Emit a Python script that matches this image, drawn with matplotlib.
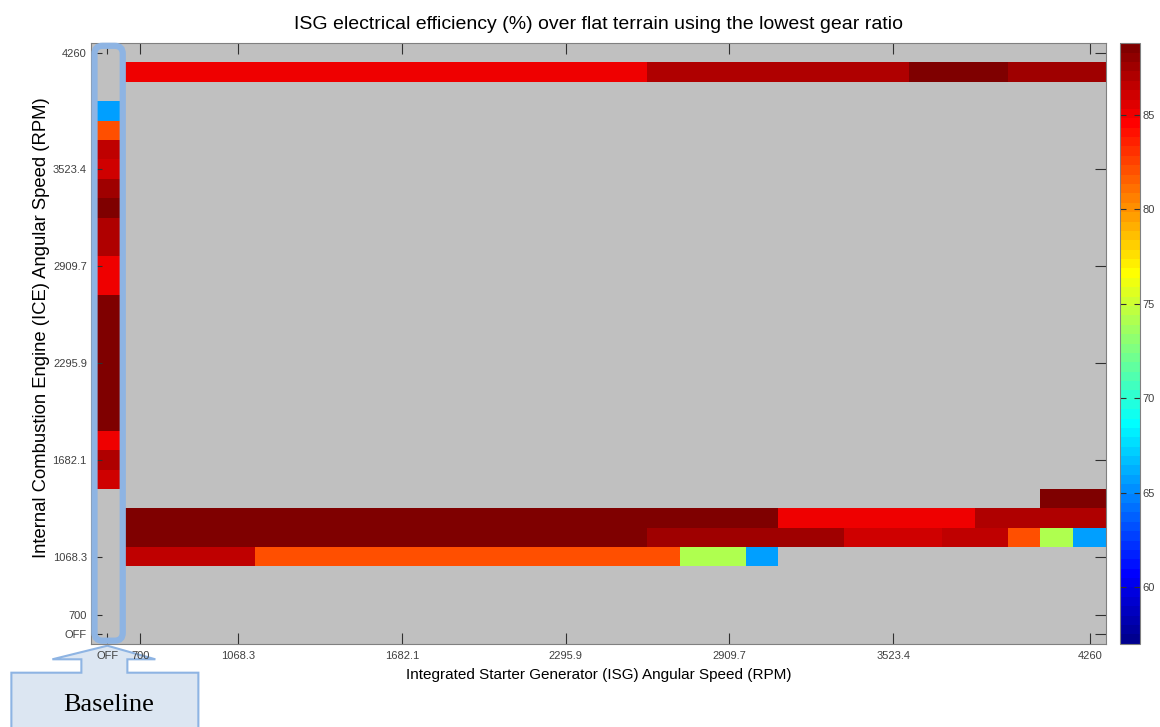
import numpy as np
import matplotlib.pyplot as plt
from matplotlib.colors import ListedColormap, Normalize
from matplotlib.patches import FancyBboxPatch, Polygon
from matplotlib.transforms import IdentityTransform

plt.rcParams['font.family'] = ['Liberation Sans', 'DejaVu Sans']

nan = np.nan

# speed grid: OFF + 30 speeds from 700 to 4260 rpm (same for ISG and ICE)
rpm_min, rpm_max, n_speeds = 700, 4260, 30
tick_labels = ["OFF", "700", "1068.3", "1682.1", "2295.9", "2909.7", "3523.4", "4260"]

# ISG efficiency (%) with the ISG switched off, ICE from OFF up to 4260 rpm
baseline_eff = [nan, nan, nan, nan, nan, nan, nan, nan,
                86.1, 87.1, 85.1, 88.5, 88.5, 88.5, 88.5, 88.5, 88.5, 88.5,
                85.1, 85.1, 87.1, 87.1, 88.5, 87.6, 86.1, 86.6, 82.1, 65.7,
                nan, nan, nan]

# ISG efficiency (%) along ISG speed 700..4260 rpm, one list per ICE speed
eff_ice_1068 = [86.6, 86.6, 86.6, 86.6, 82.1, 82.1, 82.1, 82.1, 82.1, 82.1,
                82.1, 82.1, 82.1, 82.1, 82.1, 82.1, 82.1, 74.1, 74.1, 65.7,
                nan, nan, nan, nan, nan, nan, nan, nan, nan, nan]
eff_ice_1191 = [88.5, 88.5, 88.5, 88.5, 88.5, 88.5, 88.5, 88.5, 88.5, 88.5,
                88.5, 88.5, 88.5, 88.5, 88.5, 88.5, 87.6, 87.6, 87.6, 87.6,
                87.6, 87.6, 86.1, 86.1, 86.1, 86.6, 86.6, 82.1, 74.1, 65.7]
eff_ice_1314 = [88.5, 88.5, 88.5, 88.5, 88.5, 88.5, 88.5, 88.5, 88.5, 88.5,
                88.5, 88.5, 88.5, 88.5, 88.5, 88.5, 88.5, 88.5, 88.5, 88.5,
                85.1, 85.1, 85.1, 85.1, 85.1, 85.1, 87.1, 87.1, 87.1, 87.1]
eff_ice_1437 = [nan, nan, nan, nan, nan, nan, nan, nan, nan, nan,
                nan, nan, nan, nan, nan, nan, nan, nan, nan, nan,
                nan, nan, nan, nan, nan, nan, nan, nan, 88.5, 88.5]
eff_ice_4137 = [85.1, 85.1, 85.1, 85.1, 85.1, 85.1, 85.1, 85.1, 85.1, 85.1,
                85.1, 85.1, 85.1, 85.1, 85.1, 85.1, 87.1, 87.1, 87.1, 87.1,
                87.1, 87.1, 87.1, 87.1, 88.5, 88.5, 88.5, 87.6, 87.6, 87.6]

clim = (57.0, 88.8)

step = (rpm_max - rpm_min) / (n_speeds - 1)


def speed_index(rpm):
    # column/row index in the grid, 0 is OFF
    return int(round((rpm - rpm_min) / step)) + 1


grid = np.full((n_speeds + 1, n_speeds + 1), np.nan)
grid[:, 0] = baseline_eff
for ice_rpm, row in [(1068.3, eff_ice_1068), (1191.1, eff_ice_1191),
                     (1313.8, eff_ice_1314), (1436.6, eff_ice_1437),
                     (4137.2, eff_ice_4137)]:
    grid[speed_index(ice_rpm), 1:] = row

tick_pos = [0] + [speed_index(float(t)) for t in tick_labels[1:]]

# 64-level jet, MATLAB flavour
i = np.arange(1, 65)


def trap(shift):
    return np.clip(np.minimum((i - 8 - shift) / 16, (56 + shift - i) / 16), 0, 1)


jet = ListedColormap(np.column_stack([trap(16), trap(0), trap(-16)]))
jet.set_bad('#c0c0c0')

W, H = 1160, 727
fig = plt.figure(figsize=(W / 100, H / 100), dpi=100)
ax = fig.add_axes([91 / W, 1 - 643.7 / H, 1015 / W, 600.4 / H])

im = ax.imshow(grid, cmap=jet, norm=Normalize(*clim), origin='lower',
               aspect='auto', interpolation='nearest',
               extent=(-0.5, n_speeds + 0.5, -0.5, n_speeds + 0.5))

ax.set_xticks(tick_pos)
ax.set_xticklabels(tick_labels)
ax.set_yticks(tick_pos)
ax.set_yticklabels(tick_labels)
ax.tick_params(direction='in', length=8, width=0.8, top=True, right=True,
               labelsize=8, labelcolor='#404040', color='#303030', pad=3)
ax.tick_params(axis='x', pad=5)
for s in ax.spines.values():
    s.set_color('#808080')

ax.set_title("ISG electrical efficiency (%) over flat terrain using the lowest gear ratio",
             fontsize=14, pad=10.5)
ax.set_xlabel("Integrated Starter Generator (ISG) Angular Speed (RPM)", fontsize=11, labelpad=5)
ax.set_ylabel("Internal Combustion Engine (ICE) Angular Speed (RPM)", fontsize=13.3)
ax.yaxis.set_label_coords(-0.040, 0.527)

cax = fig.add_axes([1120 / W, 1 - 643.7 / H, 20 / W, 600.4 / H])
cb = fig.colorbar(im, cax=cax, ticks=[60, 65, 70, 75, 80, 85])
cb.outline.set_edgecolor('#808080')
cax.yaxis.set_ticks_position('both')
cax.tick_params(direction='in', length=4, width=0.8, labelsize=8,
                labelcolor='#404040', color='#303030', pad=2)

# highlight the ISG-off column and label it
x0, y0 = ax.transData.transform((-0.5, -0.5))
x1, y1 = ax.transData.transform((0.5, n_speeds + 0.5))
frame = FancyBboxPatch((x0 + 3.5, y0 + 3), (x1 - 1) - (x0 + 3.5), (y1 - 2.5) - (y0 + 3),
                       boxstyle='round,pad=0,rounding_size=8', transform=IdentityTransform(),
                       fill=False, edgecolor='#8eb4e3', linewidth=4.5, zorder=5)
fig.add_artist(frame)

tx, ty = ax.transData.transform((0, -0.5))
ty -= 2
callout = Polygon([(tx, ty), (tx + 48, ty - 13.6), (tx + 20, ty - 13.6), (tx + 20, ty - 27),
                   (tx + 91, ty - 27), (tx + 91, ty - 120), (tx - 96, ty - 120),
                   (tx - 96, ty - 27), (tx - 26, ty - 27), (tx - 26, ty - 13.6),
                   (tx - 55, ty - 13.6)], closed=True, transform=IdentityTransform(),
                  facecolor='#dce6f2', edgecolor='#8eb4e3', linewidth=1.5, zorder=-1)
fig.add_artist(callout)
fig.text(109 / W, 22 / H, "Baseline", ha='center', va='center',
         family='Liberation Serif', fontsize=19, zorder=6)

fig.savefig("out.png", dpi=100)
